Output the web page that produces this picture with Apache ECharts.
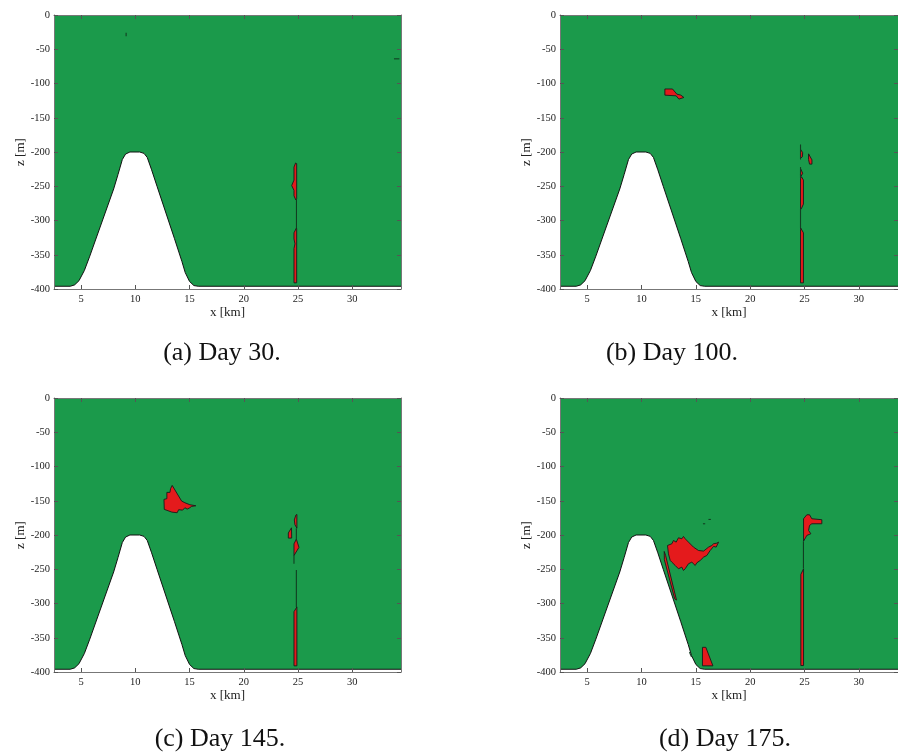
<!DOCTYPE html>
<html>
<head>
<meta charset="utf-8">
<script src="https://cdn.jsdelivr.net/npm/echarts@6/dist/echarts.min.js"></script>
<style>
  html, body { margin: 0; padding: 0; background: #fff; }
  #main { width: 898px; height: 755px; }
</style>
</head>
<body>
<div id="main"></div>
<script>
var xTicks = [5, 10, 15, 20, 25, 30];
var zTicks = [0, -50, -100, -150, -200, -250, -300, -350, -400];
var captions = ['(a) Day 30.', '(b) Day 100.', '(c) Day 145.', '(d) Day 175.'];

// seamount profile [x km, z m]
var seabed = [
  [2.5, -396], [4.0, -396], [4.4, -394], [4.8, -388], [5.3, -373], [5.8, -352],
  [8.0, -254], [8.4, -233], [8.8, -211], [9.1, -203], [9.5, -200], [10.4, -200],
  [10.8, -202], [11.1, -208], [11.5, -226], [12.0, -250], [13.6, -326], [14.3, -360],
  [14.6, -376], [15.0, -389], [15.4, -395], [15.8, -396], [34.6, -396]
];

// red regions and bare contour lines, one set per day
var day30Red = [
  [[24.63, -222], [24.78, -216], [24.88, -217], [24.88, -268], [24.8, -270], [24.63, -264], [24.63, -256], [24.42, -249], [24.63, -241]],
  [[24.85, -311], [24.88, -312], [24.88, -391], [24.63, -391], [24.63, -341], [24.72, -334], [24.63, -327], [24.63, -318]]
];
var day30Lines = [
  [[24.86, -268], [24.86, -311]],
  [[9.15, -26], [9.15, -31]],
  [[33.85, -64], [34.35, -64]]
];

var day100Red = [
  [[12.15, -108], [12.85, -108], [13.25, -115.5], [13.62, -117], [13.9, -120.4], [13.44, -122.8], [13.19, -118], [12.15, -117]],
  [[24.63, -196], [24.83, -201], [24.8, -207], [24.63, -209]],
  [[25.37, -202.7], [25.68, -211.5], [25.68, -217.7], [25.46, -217.7], [25.37, -211]],
  [[24.63, -224], [24.83, -231], [24.7, -235], [24.63, -233]],
  [[24.63, -239], [24.72, -236], [24.9, -241], [24.9, -276], [24.7, -283], [24.63, -283]],
  [[24.65, -311], [24.9, -318], [24.9, -391], [24.63, -391], [24.63, -313]]
];
var day100Lines = [
  [[24.63, -189], [24.63, -211]],
  [[24.63, -222], [24.63, -239]],
  [[24.63, -283], [24.63, -311]]
];

var day145Red = [
  [[13.40, -127.6], [14.27, -150.5], [14.57, -152.9], [15.03, -155.8], [15.58, -157.3], [15.19, -158.3],
   [14.97, -160.7], [14.78, -162.2], [14.57, -160.2], [14.36, -163.7], [13.99, -163.1], [13.86, -167.5],
   [13.37, -166.6], [12.67, -162.6], [12.64, -148], [12.91, -147], [12.91, -137.8], [13.19, -137.8], [13.25, -132.4]],
  [[24.9, -170], [24.9, -190], [24.72, -185], [24.66, -178], [24.8, -171]],
  [[24.11, -197], [24.4, -189.5], [24.42, -204.5], [24.11, -204.5]],
  [[24.85, -206], [24.63, -213], [24.63, -230], [25.09, -218]],
  [[24.9, -305], [24.9, -391], [24.63, -391], [24.63, -312]]
];
var day145Lines = [
  [[24.85, -190], [24.85, -207]],
  [[24.63, -230], [24.63, -242]],
  [[24.85, -251], [24.85, -305]]
];

var day175Red = [
  [[12.39, -215.3], [12.79, -212.8], [12.94, -208.0], [13.19, -210.4], [13.40, -204.1], [13.71, -205.5],
   [13.86, -202.1], [14.02, -205.5], [14.32, -210.4], [14.78, -217.7], [15.24, -222.6], [15.71, -223.5],
   [16.17, -217.7], [16.47, -215.3], [16.63, -212.8], [16.93, -211.9], [17.09, -210.4], [16.87, -217.7],
   [16.63, -216.7], [16.32, -222.6], [16.01, -229.9], [15.71, -232.3], [15.40, -237.2], [15.09, -240.6],
   [14.94, -244.5], [14.63, -239.6], [14.32, -242.0], [14.02, -249.3], [13.86, -251.8], [13.71, -246.9],
   [13.40, -249.3], [13.10, -244.5], [12.79, -239.6], [12.64, -237.2], [12.48, -227.5]],
  [[12.09, -224], [12.22, -230], [13.22, -295], [13.05, -293], [12.1, -236]],
  [[15.61, -364], [15.92, -364], [16.57, -391], [15.61, -391]],
  [[24.91, -176.3], [25.21, -170.5], [25.46, -170.5], [25.67, -176.3], [26.59, -177.7], [26.59, -183.6],
   [25.67, -183.6], [25.46, -186], [25.37, -193.3], [25.58, -198.2], [25.21, -200.6], [25.09, -204.1], [24.91, -208.9]],
  [[24.91, -249.3], [24.91, -390.6], [24.66, -390.6], [24.66, -257.6]]
];
var day175Lines = [
  [[24.9, -209], [24.9, -249]],
  [[15.65, -183.6], [15.86, -183.6]],
  [[16.16, -177.3], [16.38, -177.3]],
  [[14.41, -371], [14.6, -378]]
];

var GREEN = '#1b9a4b';
var RED = '#e41a1c';
var SERIF = '"Liberation Serif", "DejaVu Serif", serif';

var panels = [
  { grid: { left: 54, top: 15, width: 347, height: 274 }, xMax: 34.5, red: day30Red, lines: day30Lines, cap: [222, 353] },
  { grid: { left: 560, top: 15, width: 338, height: 274 }, xMax: 33.6, red: day100Red, lines: day100Lines, cap: [672, 353] },
  { grid: { left: 54, top: 398, width: 347, height: 274 }, xMax: 34.5, red: day145Red, lines: day145Lines, cap: [220, 739] },
  { grid: { left: 560, top: 398, width: 338, height: 274 }, xMax: 33.6, red: day175Red, lines: day175Lines, cap: [725, 739] }
];

function shapeRenderer(shapes, closed) {
  return function (params, api) {
    var pts = shapes[params.dataIndex].map(function (p) { return api.coord(p); });
    if (closed) {
      return { type: 'polygon', shape: { points: pts }, style: { fill: RED, stroke: '#1a1a1a', lineWidth: 0.9 } };
    }
    return { type: 'polyline', shape: { points: pts }, style: { fill: null, stroke: '#123d22', lineWidth: 1.1 } };
  };
}

function ticks(values) {
  return { show: true, inside: true, length: 4, customValues: values, lineStyle: { color: '#555', width: 1 } };
}

var grids = [], xAxes = [], yAxes = [], series = [], texts = [];

panels.forEach(function (p, i) {
  grids.push(Object.assign({ show: true, backgroundColor: GREEN, borderWidth: 0 }, p.grid));

  xAxes[i] = {
    type: 'value', gridIndex: i, position: 'bottom', min: 2.5, max: p.xMax, z: 5,
    name: 'x [km]', nameLocation: 'middle', nameGap: 17,
    nameTextStyle: { fontFamily: SERIF, fontSize: 13, color: '#222' },
    axisLine: { show: true, onZero: false, lineStyle: { color: '#777', width: 1 } },
    axisTick: ticks(xTicks),
    axisLabel: { customValues: xTicks, margin: 5, fontFamily: SERIF, fontSize: 10.5, color: '#222' },
    splitLine: { show: false }
  };
  xAxes[i + 4] = {
    type: 'value', gridIndex: i, position: 'top', min: 2.5, max: p.xMax, z: 5,
    axisLine: { show: true, onZero: false, lineStyle: { color: '#777', width: 1 } },
    axisTick: ticks(xTicks),
    axisLabel: { show: false }, splitLine: { show: false }
  };
  yAxes[i] = {
    type: 'value', gridIndex: i, position: 'left', min: -400, max: 0, z: 5,
    name: 'z [m]', nameLocation: 'middle', nameGap: 26,
    nameTextStyle: { fontFamily: SERIF, fontSize: 13, color: '#222' },
    axisLine: { show: true, onZero: false, lineStyle: { color: '#777', width: 1 } },
    axisTick: ticks(zTicks),
    axisLabel: { customValues: zTicks, margin: 4, fontFamily: SERIF, fontSize: 10.5, color: '#222' },
    splitLine: { show: false }
  };
  yAxes[i + 4] = {
    type: 'value', gridIndex: i, position: 'right', min: -400, max: 0, z: 5,
    axisLine: { show: true, onZero: false, lineStyle: { color: '#777', width: 1 } },
    axisTick: ticks(zTicks),
    axisLabel: { show: false }, splitLine: { show: false }
  };

  series.push({
    type: 'line', xAxisIndex: i, yAxisIndex: i, data: seabed, symbol: 'none', silent: true,
    lineStyle: { color: '#111', width: 1 },
    areaStyle: { color: '#fff', opacity: 1, origin: 'start' },
    z: 3
  });
  series.push({
    type: 'custom', xAxisIndex: i, yAxisIndex: i, silent: true,
    data: p.red.map(function (s) { return s[0]; }),
    renderItem: shapeRenderer(p.red, true), z: 4
  });
  series.push({
    type: 'custom', xAxisIndex: i, yAxisIndex: i, silent: true,
    data: p.lines.map(function (s) { return s[0]; }),
    renderItem: shapeRenderer(p.lines, false), z: 4
  });

  texts.push({
    type: 'text', x: p.cap[0], y: p.cap[1],
    style: { text: captions[i], font: '26px ' + SERIF, fill: '#111', textAlign: 'center', textVerticalAlign: 'middle' }
  });
});

var chart = echarts.init(document.getElementById('main'));
chart.setOption({
  animation: false,
  backgroundColor: '#fff',
  grid: grids,
  xAxis: xAxes,
  yAxis: yAxes,
  series: series,
  graphic: texts
});
</script>
</body>
</html>
